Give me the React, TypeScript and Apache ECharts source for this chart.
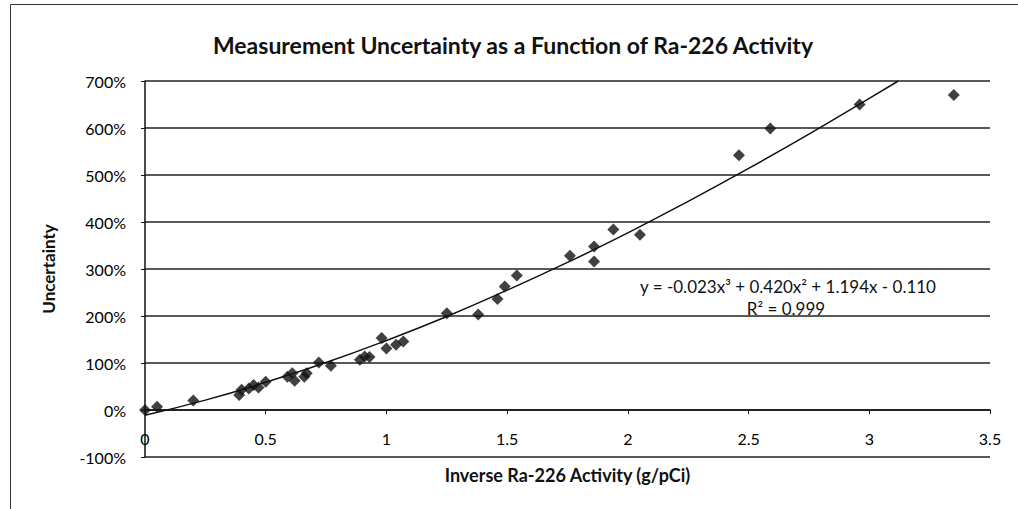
import React, { useEffect, useRef } from "react";
import * as echarts from "echarts";

const titleText = "Measurement Uncertainty as a Function of Ra-226 Activity";
const xAxisName = "Inverse Ra-226 Activity (g/pCi)";
const yAxisName = "Uncertainty";
const equationText = "y = -0.023x³ + 0.420x² + 1.194x - 0.110";
const r2Text = "R² = 0.999";

// measured points: inverse activity (g/pCi), uncertainty (%)
const pointX = [
  0, 0.05, 0.2, 0.39, 0.4, 0.43, 0.45, 0.47, 0.5, 0.59, 0.61, 0.62, 0.66, 0.67,
  0.72, 0.77, 0.89, 0.91, 0.93, 0.98, 1.0, 1.04, 1.07, 1.25, 1.38, 1.46, 1.49,
  1.54, 1.76, 1.86, 1.86, 1.94, 2.05, 2.46, 2.59, 2.96, 3.35,
];
const pointY = [
  0, 7, 20, 32, 43, 46, 53, 48, 60, 71, 78, 62, 71, 78,
  101, 94, 107, 114, 113, 153, 131, 139, 146, 206, 203, 236, 263,
  286, 328, 348, 316, 384, 373, 542, 599, 650, 670,
];

// trendline
const trendX = [0, 0.25, 0.5, 0.75, 1, 1.25, 1.5, 1.75, 2, 2.25, 2.5, 2.75, 3, 3.12];
const trendY = [-11, 21, 59, 101, 148, 199, 255, 314, 377, 444, 514, 587, 663, 700];

const yTicks = { min: -100, max: 700, interval: 100 };
const xTicks = { min: 0, max: 3.5, interval: 0.5 };

const FONT = "Lato, 'Open Sans', sans-serif";
const GRID_TOP = 81;
const GRID_BOTTOM = 52;
const CHART_H = 509;

export default function App() {
  const ref = useRef<HTMLDivElement>(null);
  useEffect(() => {
    document.body.style.margin = "0";
    if (!ref.current) return;
    const chart = echarts.init(ref.current, undefined, { renderer: "svg" });
    const scatterData = pointX.map((x, i) => [x, pointY[i]]);
    const trendData = trendX.map((x, i) => [x, trendY[i]]);
    // distance from the bottom of the plot (-100%) up to the 0% line
    const plotH = CHART_H - GRID_TOP - GRID_BOTTOM;
    const zeroOffset = (plotH * (0 - yTicks.min)) / (yTicks.max - yTicks.min);
    chart.setOption({
      animation: false,
      backgroundColor: "#ffffff",
      title: {
        text: titleText,
        left: 508,
        textAlign: "center",
        top: 28,
        textStyle: { fontFamily: FONT, fontSize: 23, fontWeight: "bold", color: "#111" },
      },
      grid: {
        left: 145,
        right: 28,
        top: GRID_TOP,
        bottom: GRID_BOTTOM,
        outerBoundsMode: "none",
        containLabel: false,
      },
      xAxis: {
        type: "value",
        min: xTicks.min,
        max: xTicks.max,
        interval: xTicks.interval,
        offset: -zeroOffset,
        name: xAxisName,
        nameLocation: "middle",
        nameGap: 56,
        nameTextStyle: { fontFamily: FONT, fontSize: 18, fontWeight: "bold", color: "#111" },
        axisLine: { show: true, onZero: false, lineStyle: { color: "#111", width: 1.5 } },
        axisTick: { show: true, length: 4, lineStyle: { color: "#111" } },
        axisLabel: {
          fontFamily: FONT,
          fontSize: 16,
          color: "#000",
          margin: 20,
          formatter: (v: number) => String(v),
        },
        splitLine: { show: false },
      },
      yAxis: {
        type: "value",
        min: yTicks.min,
        max: yTicks.max,
        interval: yTicks.interval,
        name: yAxisName,
        nameLocation: "middle",
        nameGap: 88,
        nameTextStyle: { fontFamily: FONT, fontSize: 17, fontWeight: "bold", color: "#111" },
        axisLine: { show: true, onZero: false, lineStyle: { color: "#111", width: 1.5 } },
        axisTick: { show: true, length: 4, inside: false, lineStyle: { color: "#111" } },
        axisLabel: {
          fontFamily: FONT,
          fontSize: 16,
          color: "#000",
          margin: 19,
          formatter: (v: number) => v + "%",
        },
        splitLine: { show: true, lineStyle: { color: "#222", width: 1.5 } },
      },
      graphic: [
        {
          type: "rect",
          left: 8,
          top: 2,
          shape: { width: 1030, height: 520 },
          style: { fill: "none", stroke: "#333", lineWidth: 1 },
          silent: true,
        },
        {
          type: "text",
          x: 788,
          y: 278,
          style: {
            text: equationText,
            fontFamily: FONT,
            fontSize: 17,
            fill: "#111",
            textAlign: "center",
          },
        },
        {
          type: "text",
          x: 786,
          y: 300,
          style: {
            text: r2Text,
            fontFamily: FONT,
            fontSize: 17,
            fill: "#111",
            textAlign: "center",
          },
        },
      ],
      series: [
        {
          type: "line",
          data: trendData,
          smooth: true,
          showSymbol: false,
          symbol: "none",
          lineStyle: { color: "#111", width: 1.5 },
          z: 3,
        },
        {
          type: "scatter",
          data: scatterData,
          symbol: "diamond",
          symbolSize: 12,
          itemStyle: { color: "#111" },
          z: 4,
        },
      ],
    });
    return () => chart.dispose();
  }, []);
  return <div ref={ref} style={{ width: 1018, height: 509 }} />;
}
